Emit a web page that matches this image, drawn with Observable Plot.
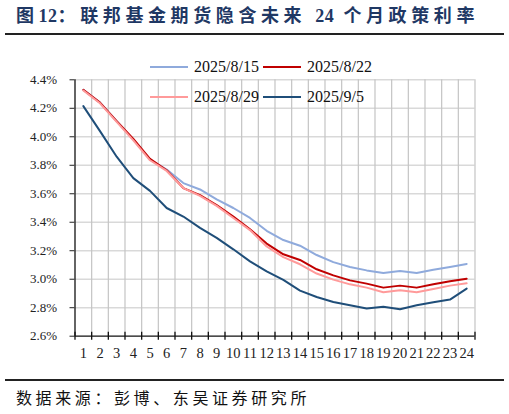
<!DOCTYPE html>
<html lang="zh">
<head>
<meta charset="UTF-8">
<title>联邦基金期货隐含未来 24 个月政策利率</title>
<script src="https://cdn.jsdelivr.net/npm/d3@7"></script>
<script src="https://cdn.jsdelivr.net/npm/@observablehq/plot@0.6"></script>
<style>
  body { margin: 0; background: #fff; }
  #page { position: relative; width: 509px; height: 414px; overflow: hidden; }
  #title {
    position: absolute; left: 16px; top: 4px;
    font-family: "Liberation Serif", "Noto Sans CJK SC", serif;
    font-weight: 700; font-size: 18px; line-height: 24px;
    letter-spacing: 4.6px; color: #1f3864; white-space: nowrap;
  }
  #title .num { letter-spacing: 0.5px; }
  #topline { position: absolute; left: 5px; width: 499px; top: 33px; height: 2px; background: #222; }
  #chart { position: absolute; left: 0; top: 40px; }
  #legend {
    position: absolute; left: 0; top: 0; width: 509px;
    font-family: "Liberation Serif", serif; font-size: 16px; color: #111;
  }
  .item { position: absolute; display: flex; align-items: center; }
  .item .sw { width: 38px; height: 2px; margin-right: 6px; }
  #botline { position: absolute; left: 5px; width: 499px; top: 379px; height: 1.5px; background: #222; }
  #source {
    position: absolute; left: 16px; top: 386px;
    font-family: "Noto Sans CJK SC", sans-serif; font-size: 16px; line-height: 22px;
    letter-spacing: 3.6px; color: #111;
  }
</style>
</head>
<body>
<div id="page">
  <div id="title">图<span class="num">12</span>：联邦基金期货隐含未来 <span class="num">24</span> 个月政策利率</div>
  <div id="topline"></div>
  <div id="chart"></div>
  <div id="legend"></div>
  <div id="botline"></div>
  <div id="source">数据来源：彭博、东吴证券研究所</div>
</div>

<script>
  // months ahead
  const months = [1, 2, 3, 4, 5, 6, 7, 8, 9, 10, 11, 12, 13, 14, 15, 16, 17, 18, 19, 20, 21, 22, 23, 24];

  // implied policy rate (%)
  const s0815 = [4.33, 4.24, 4.11, 3.98, 3.84, 3.77, 3.675, 3.63, 3.56, 3.50, 3.43, 3.34, 3.275, 3.235, 3.17, 3.12, 3.086, 3.062, 3.044, 3.058, 3.044, 3.067, 3.086, 3.107];
  const s0822 = [4.33, 4.24, 4.11, 3.985, 3.845, 3.765, 3.64, 3.59, 3.52, 3.44, 3.35, 3.25, 3.175, 3.135, 3.07, 3.027, 2.992, 2.969, 2.941, 2.955, 2.941, 2.964, 2.985, 3.004];
  const s0829 = [4.325, 4.235, 4.105, 3.975, 3.835, 3.76, 3.64, 3.585, 3.515, 3.43, 3.345, 3.23, 3.155, 3.105, 3.04, 2.997, 2.964, 2.941, 2.908, 2.922, 2.908, 2.932, 2.955, 2.971];
  const s0905 = [4.215, 4.04, 3.86, 3.71, 3.62, 3.50, 3.44, 3.36, 3.29, 3.21, 3.125, 3.055, 2.995, 2.92, 2.875, 2.84, 2.817, 2.794, 2.806, 2.789, 2.817, 2.838, 2.857, 2.934];

  const seriesNames = ["2025/8/15", "2025/8/22", "2025/8/29", "2025/9/5"];
  const seriesValues = [s0815, s0822, s0829, s0905];
  const seriesColors = ["#8faadc", "#c00000", "#ff9a9a", "#1f4e79"];

  const yTicks = [2.6, 2.8, 3.0, 3.2, 3.4, 3.6, 3.8, 4.0, 4.2, 4.4];

  // long table for Plot
  const rows = [];
  seriesNames.forEach((name, k) => {
    months.forEach((m, i) => rows.push({ series: name, month: m, rate: seriesValues[k][i] }));
  });

  // band edges between months
  const edges = [0.5].concat(months.map(m => m + 0.5));

  const plot = Plot.plot({
    width: 509,
    height: 335,
    marginLeft: 74.5,
    marginRight: 34.5,
    marginTop: 39.3,
    marginBottom: 39.3,
    style: { fontFamily: "Liberation Serif, serif", fontSize: "13px", color: "#222", background: "transparent" },
    x: {
      type: "linear",
      domain: [0.5, 24.5],
      ticks: months,
      tickSize: 0,
      tickPadding: 12,
      tickFormat: d => String(d),
      label: null
    },
    y: {
      domain: [2.6, 4.4],
      ticks: yTicks,
      tickSize: 5,
      tickPadding: 13,
      tickFormat: d => d.toFixed(1) + "%",
      label: null
    },
    color: { domain: seriesNames, range: seriesColors },
    marks: [
      Plot.ruleY(yTicks.slice(1), { stroke: "#d9d9d9", strokeWidth: 1.5 }),
      Plot.ruleX(edges.slice(1), { stroke: "#c4c4c4", strokeWidth: 1.2 }),
      Plot.line(rows, { x: "month", y: "rate", z: "series", stroke: "series", strokeWidth: 2 }),
      Plot.ruleX([0.5], { stroke: "#111", strokeWidth: 1.3 }),
      Plot.ruleY([2.6], { stroke: "#111", strokeWidth: 1.3 }),
      Plot.ruleX(edges, { y1: 2.6, y2: 2.6, insetTop: -4, insetBottom: -4, stroke: "#111", strokeWidth: 1.3 })
    ]
  });

  // month labels are a bit bigger than the percent labels
  const xLab = plot.querySelector('g[aria-label="x-axis tick label"]');
  if (xLab) xLab.setAttribute("font-size", "14.5");

  document.querySelector("#chart").append(plot);

  // legend, two rows of two
  const legendPos = [[150, 67], [263, 67], [150, 97], [263, 97]];
  const legend = document.querySelector("#legend");
  seriesNames.forEach((name, k) => {
    const it = document.createElement("div");
    it.className = "item";
    it.style.left = legendPos[k][0] + "px";
    it.style.top = (legendPos[k][1] - 10) + "px";
    it.style.height = "20px";
    const sw = document.createElement("span");
    sw.className = "sw";
    sw.style.background = seriesColors[k];
    const tx = document.createElement("span");
    tx.textContent = name;
    it.append(sw, tx);
    legend.append(it);
  });
</script>
</body>
</html>
